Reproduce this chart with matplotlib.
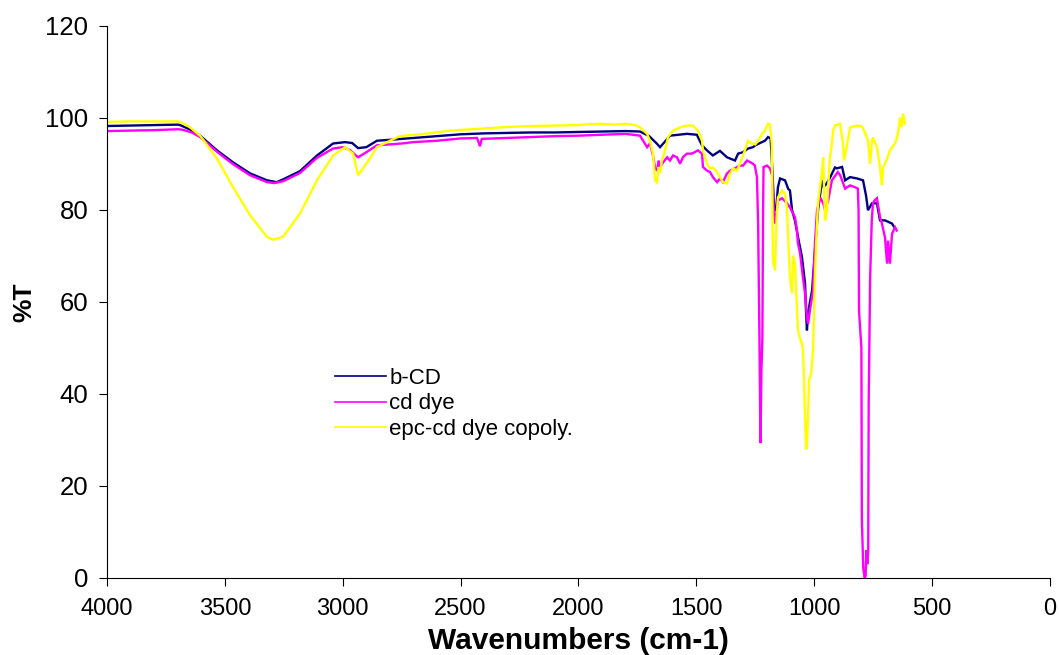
import matplotlib
matplotlib.use("Agg")
import matplotlib.pyplot as plt

# FTIR transmittance spectra (wavenumber in cm-1, %T)
bcd_wn = [4000, 3900, 3800, 3700, 3690, 3650, 3605, 3533, 3465, 3393, 3321, 3280, 3253,
          3181, 3109, 3041, 2990, 2960, 2935, 2900, 2855, 2800, 2700, 2600, 2500, 2400,
          2300, 2200, 2100, 2000, 1900, 1800, 1739, 1700, 1670, 1654, 1630, 1612, 1540,
          1498, 1476, 1455, 1430, 1400, 1370, 1336, 1323, 1302, 1281, 1260, 1250, 1230,
          1209, 1196, 1185, 1178, 1170, 1162, 1154, 1145, 1124, 1110, 1103, 1094, 1082,
          1069, 1052, 1039, 1035, 1031, 1026, 1018, 1009, 997, 984, 967, 960, 950, 933,
          912, 904, 882, 869, 848, 818, 793, 780, 772, 755, 734, 721, 700, 670, 657]
bcd_t = [98.2, 98.3, 98.4, 98.5, 98.4, 97.5, 96.1, 92.9, 90.3, 87.9, 86.4, 86.0, 86.6,
         88.4, 91.8, 94.4, 94.7, 94.5, 93.4, 93.6, 95.0, 95.2, 95.6, 96.0, 96.4, 96.6,
         96.7, 96.8, 96.8, 96.9, 97.0, 97.1, 97.0, 96.0, 94.5, 93.6, 95.0, 96.1, 96.5,
         96.3, 94.0, 92.9, 91.8, 92.8, 91.4, 90.7, 92.2, 92.5, 93.3, 93.6, 94.0, 94.5,
         95.0, 95.8, 95.5, 89.0, 80.0, 79.9, 84.9, 86.8, 86.4, 84.5, 84.2, 79.9, 77.7,
         74.1, 69.7, 64.0, 58.2, 53.8, 57.5, 60.0, 62.5, 71.2, 79.9, 86.4, 85.0, 85.5, 87.0,
         89.2, 89.0, 89.3, 86.4, 87.1, 86.8, 86.4, 83.0, 79.9, 81.4, 81.4, 77.7, 77.7, 77.0, 75.9]

dye_wn = [4000, 3900, 3800, 3700, 3680, 3640, 3605, 3533, 3465, 3393, 3321, 3290, 3253,
          3181, 3109, 3041, 3000, 2970, 2935, 2900, 2855, 2800, 2750, 2700, 2600, 2500,
          2430, 2418, 2410, 2300, 2200, 2100, 2000, 1900, 1800, 1739, 1726, 1709, 1697,
          1684, 1675, 1667, 1660, 1654, 1641, 1624, 1612, 1599, 1582, 1569, 1557, 1540,
          1519, 1493, 1476, 1472, 1455, 1442, 1430, 1412, 1400, 1387, 1370, 1357, 1344,
          1315, 1302, 1285, 1270, 1260, 1252, 1243, 1238, 1232, 1228, 1224, 1220, 1217,
          1215, 1200, 1188, 1179, 1172, 1166, 1154, 1137, 1116, 1103, 1090, 1082, 1073,
          1069, 1060, 1048, 1039, 1031, 1026, 1018, 1005, 997, 988, 975, 962, 954, 941,
          925, 900, 890, 869, 848, 827, 815, 812, 810, 800, 798, 792, 786, 782, 779, 775,
          771, 769, 763, 756, 751, 745, 734, 721, 713, 700, 691, 687, 679, 670, 657, 650]
dye_t = [97.1, 97.2, 97.3, 97.5, 97.4, 96.8, 95.8, 92.6, 89.9, 87.5, 86.0, 85.8, 86.2,
         88.0, 91.3, 93.3, 93.6, 93.0, 91.4, 92.5, 94.0, 94.2, 94.4, 94.7, 95.0, 95.5,
         95.6, 93.8, 95.4, 95.6, 95.8, 96.0, 96.1, 96.3, 96.5, 96.1, 95.0, 93.6, 94.4,
         91.8, 89.0, 88.5, 90.7, 89.3, 90.3, 91.4, 90.7, 91.8, 91.4, 90.0, 91.4, 92.2,
         92.2, 92.9, 92.2, 89.3, 88.5, 88.2, 87.1, 86.0, 86.8, 86.0, 87.9, 88.5, 88.8,
         89.6, 89.6, 90.7, 90.3, 90.0, 89.6, 87.1, 77.0, 50.0, 29.3, 45.0, 52.0, 80.0,
         89.3, 89.6, 89.0, 87.5, 80.0, 77.0, 82.0, 82.5, 81.5, 80.5, 79.2, 78.4, 75.5,
         72.7, 70.5, 65.3, 61.8, 56.6, 55.3, 58.2, 62.5, 72.7, 79.9, 82.7, 81.4, 79.9, 82.0,
         86.4, 88.2, 87.5, 84.6, 85.3, 84.9, 84.6, 80.0, 58.0, 50.0, 12.6, 2.0, 0.0, 0.5, 6.0, 3.0,
         6.0, 38.0, 65.0, 77.7, 81.4, 82.0, 82.5, 78.4, 77.0, 74.0, 68.3, 73.3, 68.3, 74.8, 76.2, 75.5]

epc_wn = [4000, 3900, 3800, 3700, 3690, 3650, 3605, 3533, 3465, 3393, 3321, 3296, 3253,
          3181, 3109, 3041, 2990, 2956, 2935, 2914, 2880, 2855, 2800, 2757, 2650, 2545,
          2450, 2333, 2200, 2100, 2000, 1950, 1909, 1850, 1800, 1760, 1739, 1709, 1697,
          1684, 1675, 1667, 1660, 1654, 1646, 1633, 1620, 1599, 1569, 1540, 1515, 1493,
          1476, 1472, 1455, 1442, 1430, 1412, 1400, 1387, 1370, 1357, 1344, 1328, 1315,
          1294, 1281, 1265, 1250, 1238, 1221, 1209, 1196, 1188, 1180, 1175, 1166, 1160,
          1154, 1137, 1124, 1116, 1111, 1103, 1094, 1090, 1082, 1073, 1069, 1060, 1052,
          1048, 1043, 1039, 1035, 1031, 1026, 1022, 1013, 1005, 997, 992, 984, 975, 967,
          962, 958, 954, 946, 941, 933, 925, 920, 912, 891, 878, 874, 865, 848, 818, 797,
          785, 772, 763, 755, 751, 734, 721, 713, 708, 691, 679, 657, 645, 636, 630, 623, 615]
epc_t = [99.1, 99.2, 99.2, 99.2, 99.1, 98.0, 96.1, 91.1, 84.9, 78.8, 74.1, 73.5, 74.1,
         79.2, 86.4, 91.8, 93.6, 92.2, 87.5, 89.0, 91.5, 93.6, 95.0, 96.0, 96.5, 97.2,
         97.5, 97.9, 98.2, 98.3, 98.4, 98.6, 98.7, 98.5, 98.7, 98.4, 97.9, 96.5, 95.0,
         92.2, 86.4, 86.0, 89.3, 88.0, 90.7, 92.9, 95.8, 97.2, 97.9, 98.3, 98.3, 97.2,
         95.0, 92.9, 90.0, 89.0, 89.2, 88.2, 87.1, 86.0, 85.7, 87.9, 89.0, 88.5, 90.0,
         92.9, 95.0, 94.4, 94.2, 95.0, 96.5, 97.2, 98.7, 98.5, 94.4, 69.0, 66.8, 77.7,
         82.7, 84.2, 83.5, 80.5, 74.8, 65.3, 61.8, 70.0, 68.3, 58.2, 53.8, 52.0, 51.0,
         49.5, 43.0, 35.0, 28.2, 28.2, 35.8, 43.0, 44.5, 49.5, 65.3, 72.7, 81.4, 85.0, 88.5,
         91.4, 84.0, 77.7, 80.0, 85.0, 91.4, 94.4, 97.2, 98.3, 98.7, 94.4, 90.7, 92.9, 97.9, 98.3, 98.1,
         96.8, 95.0, 90.0, 95.0, 95.7, 93.6, 89.2, 85.3, 89.2, 91.1, 92.9, 94.4, 96.5, 100.0, 97.9, 100.9, 98.7]

series_labels = ["b-CD", "cd dye", "epc-cd dye copoly."]
series_colors = ["#000080", "#FF00FF", "#FFFF00"]

x_ticks = [4000, 3500, 3000, 2500, 2000, 1500, 1000, 500, 0]
y_ticks = [0, 20, 40, 60, 80, 100, 120]

plt.rcParams["font.family"] = ["Liberation Sans", "DejaVu Sans"]

fig = plt.figure(figsize=(10.59, 6.55), dpi=100)
ax = fig.add_axes([0.101, 0.1176, 0.8905, 0.8432])

for wn, t, lab, col in zip([bcd_wn, dye_wn, epc_wn], [bcd_t, dye_t, epc_t],
                           series_labels, series_colors):
    ax.plot(wn, t, color=col, lw=1.7, label=lab, solid_joinstyle="miter")

ax.set_xlim(4000, 0)
ax.set_ylim(0, 120)
ax.set_xticks(x_ticks)
ax.set_yticks(y_ticks)
ax.tick_params(direction="out", length=6, width=0.8)
ax.tick_params(axis="x", labelsize=17, pad=8.5)
ax.tick_params(axis="y", labelsize=18.5, pad=7.5)
for side in ("top", "right"):
    ax.spines[side].set_visible(False)
for side in ("left", "bottom"):
    ax.spines[side].set_linewidth(0.8)

ax.set_xlabel("Wavenumbers (cm-1)", fontsize=21.5, fontweight="bold", labelpad=5)
ax.set_ylabel("%T", fontsize=19, fontweight="bold", labelpad=6)

leg = ax.legend(loc="upper left", bbox_to_anchor=(335 / 1059, 1 - 368 / 655),
                bbox_transform=fig.transFigure, frameon=False, fontsize=16,
                handlelength=2.3, handletextpad=0.15, labelspacing=0.2,
                borderpad=0, borderaxespad=0)
for h in leg.get_lines():
    h.set_linewidth(1.2)

fig.savefig("out.png", dpi=100)
